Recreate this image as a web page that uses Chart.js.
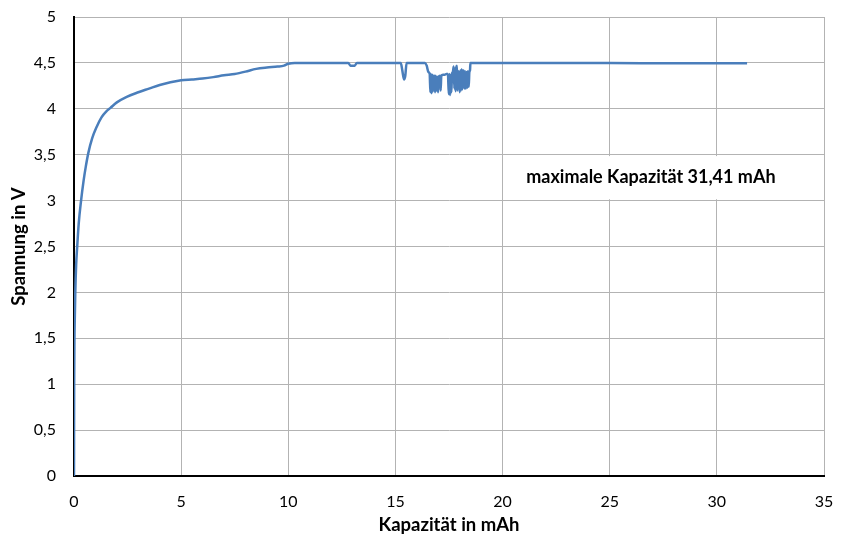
<!DOCTYPE html>
<html>
<head>
<meta charset="utf-8">
<script src="https://cdn.jsdelivr.net/npm/chart.js@4.4.0/dist/chart.umd.min.js"></script>
<style>
html,body{margin:0;padding:0;background:#fff;}
#wrap{width:843px;height:537px;position:relative;}
</style>
</head>
<body>
<div id="wrap"><canvas id="c" width="843" height="537"></canvas></div>
<script>
// Kapazität in mAh (x) and Spannung in V (y)
const capacity = [
  0, 0.003, 0.008, 0.02, 0.04, 0.06, 0.1, 0.15, 0.22, 0.33, 0.45, 0.55, 0.67, 0.85, 1.05, 1.29, 1.5, 1.7, 2.0, 2.46,
  3.0, 3.5, 4.0, 5.0, 5.5, 6.0, 6.5, 7.0, 7.5, 8.0, 8.5, 9.0, 9.5, 9.8, 10.0, 10.3, 12.8, 12.9, 13.1, 13.2,
  15.25, 15.32, 15.4, 15.46, 15.52, 16.38, 16.46, 16.54, 16.60, 16.63, 16.66, 16.69, 16.72, 16.75, 16.78, 16.82,
  16.85, 16.88, 16.92, 16.95, 16.99, 17.02, 17.08, 17.11, 17.14, 17.22, 17.30, 17.38, 17.45, 17.49, 17.52, 17.55,
  17.58, 17.61, 17.64, 17.68, 17.72, 17.75, 17.78, 17.81, 17.84, 17.87, 17.90, 17.93, 17.97, 18.00, 18.03, 18.06,
  18.09, 18.12, 18.15, 18.19, 18.22, 18.25, 18.28, 18.32, 18.35, 18.38, 18.42, 18.45, 18.48, 18.50,
  20, 22, 25, 28, 30, 31.41
];
const voltage = [
  0, 0.5, 1.0, 1.45, 1.75, 2.0, 2.3, 2.5, 2.75, 3.0, 3.22, 3.37, 3.52, 3.68, 3.8, 3.91, 3.97, 4.01, 4.07, 4.13,
  4.18, 4.22, 4.26, 4.31, 4.32, 4.33, 4.345, 4.365, 4.38, 4.405, 4.435, 4.45, 4.46, 4.47, 4.49, 4.50, 4.50, 4.47, 4.47, 4.50,
  4.50, 4.42, 4.32, 4.36, 4.50, 4.50, 4.47, 4.40, 4.38, 4.18, 4.38, 4.17, 4.37, 4.19, 4.36, 4.36,
  4.18, 4.36, 4.20, 4.35, 4.18, 4.35, 4.36, 4.20, 4.36, 4.37, 4.37, 4.38, 4.38, 4.16, 4.38, 4.15,
  4.37, 4.18, 4.38, 4.40, 4.46, 4.22, 4.44, 4.19, 4.45, 4.47, 4.20, 4.41, 4.39, 4.18, 4.42, 4.20,
  4.43, 4.21, 4.42, 4.40, 4.22, 4.41, 4.22, 4.40, 4.23, 4.41, 4.24, 4.40, 4.42, 4.50,
  4.50, 4.50, 4.50, 4.495, 4.495, 4.495
];
const xTicks = [0, 5, 10, 15, 20, 25, 30, 35];
const yTicks = [0, 0.5, 1, 1.5, 2, 2.5, 3, 3.5, 4, 4.5, 5];
const xTitle = 'Kapazität in mAh';
const yTitle = 'Spannung in V';
const note = 'maximale Kapazität 31,41 mAh';

const points = capacity.map((x, i) => ({x: x, y: voltage[i]}));
const fmt = v => String(v).replace('.', ',');

const notePlugin = {
  id: 'note',
  beforeDatasetsDraw(chart) {
    const {ctx, chartArea: a} = chart;
    const w = a.right - a.left, h = a.bottom - a.top;
    const bx = a.left + w * 0.582, by = a.top + h * 0.303;
    const bw = w * 0.37, bh = h * 0.094;
    ctx.save();
    ctx.fillStyle = '#ffffff';
    ctx.fillRect(bx, by, bw, bh);
    ctx.fillStyle = '#000000';
    ctx.font = 'bold 18px Lato';
    ctx.textBaseline = 'middle';
    ctx.textAlign = 'left';
    ctx.fillText(note, a.left + w * 0.603, by + bh / 2);
    ctx.restore();
  }
};

new Chart(document.getElementById('c'), {
  type: 'scatter',
  data: {
    datasets: [{
      data: points,
      showLine: true,
      borderColor: '#4A7EBB',
      borderWidth: 2.5,
      pointRadius: 0,
      pointHoverRadius: 0,
      cubicInterpolationMode: 'monotone',
      fill: false
    }]
  },
  options: {
    responsive: false,
    animation: false,
    events: [],
    layout: {padding: {top: 17, right: 19, left: 0, bottom: 0}},
    plugins: {legend: {display: false}, tooltip: {enabled: false}},
    scales: {
      x: {
        type: 'linear', min: 0, max: 35,
        afterBuildTicks: s => { s.ticks = xTicks.map(v => ({value: v})); },
        afterFit: s => { s.height = 61; s.paddingLeft = 0; s.paddingRight = 0; },
        grid: {color: '#b3b3b3', lineWidth: 1, drawTicks: false},
        border: {color: '#000000', width: 2},
        ticks: {color: '#000000', font: {family: 'Lato', size: 16}, padding: 16, maxRotation: 0, callback: v => fmt(v)},
        title: {display: true, text: xTitle, color: '#000000', font: {family: 'Lato', size: 18.5, weight: 'bold'}, padding: {top: 0, bottom: 1}}
      },
      y: {
        type: 'linear', min: 0, max: 5,
        afterBuildTicks: s => { s.ticks = yTicks.map(v => ({value: v})); },
        afterFit: s => { s.width = 74; s.paddingTop = 0; s.paddingBottom = 0; },
        grid: {color: '#b3b3b3', lineWidth: 1, drawTicks: false},
        border: {color: '#000000', width: 2},
        ticks: {color: '#000000', font: {family: 'Lato', size: 16}, padding: 18, callback: v => fmt(v)},
        title: {display: true, text: yTitle, color: '#000000', font: {family: 'Lato', size: 18.5, weight: 'bold'}, padding: {top: 8, bottom: 0}}
      }
    }
  },
  plugins: [notePlugin]
});
</script>
</body>
</html>
